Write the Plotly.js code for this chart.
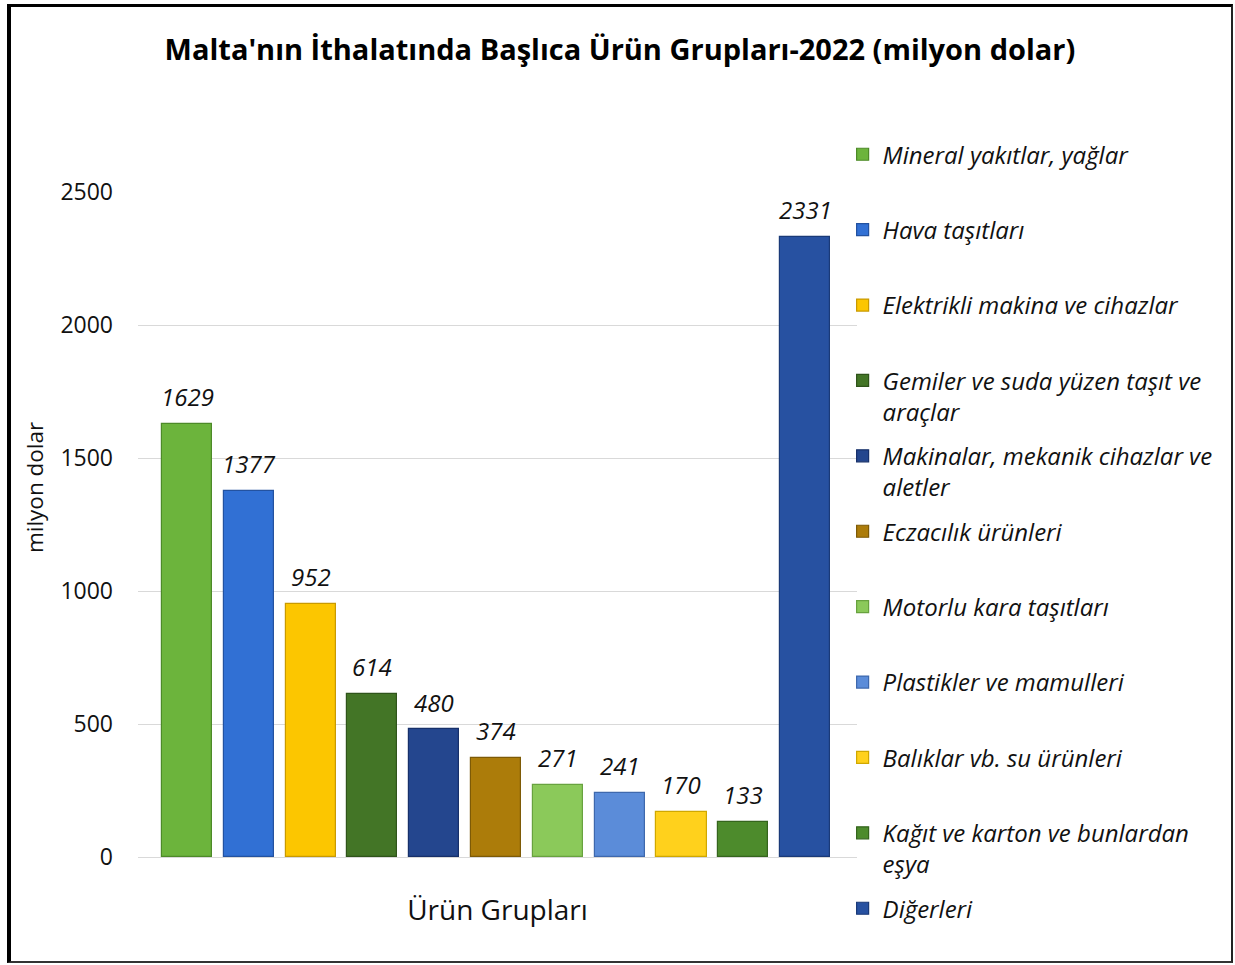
<!DOCTYPE html>
<html>
<head>
<meta charset="utf-8">
<script src="https://cdn.plot.ly/plotly-3.0.1.min.js"></script>
<style>
  html, body { margin: 0; padding: 0; background: #fff; }
  #chart { position: absolute; left: 0; top: 0; width: 1235px; height: 965px; }
  #frame { position: absolute; left: 7px; top: 4px; width: 1220px; height: 954px;
           border-left: 4px solid #000; border-top: 3px solid #000;
           border-right: 2px solid #222; border-bottom: 2px solid #333; pointer-events: none; }
</style>
</head>
<body>
<div id="chart"></div>
<div id="frame"></div>
<script>
// ---- data ----
const categories = [
  "Mineral yakıtlar, yağlar",
  "Hava taşıtları",
  "Elektrikli makina ve cihazlar",
  "Gemiler ve suda yüzen taşıt ve araçlar",
  "Makinalar, mekanik cihazlar ve aletler",
  "Eczacılık ürünleri",
  "Motorlu kara taşıtları",
  "Plastikler ve mamulleri",
  "Balıklar vb. su ürünleri",
  "Kağıt ve karton ve bunlardan eşya",
  "Diğerleri"
];
const legendLabels = [
  "Mineral yakıtlar, yağlar<br> ",
  "Hava taşıtları<br> ",
  "Elektrikli makina ve cihazlar<br> ",
  "Gemiler ve suda yüzen taşıt ve<br>araçlar",
  "Makinalar, mekanik cihazlar ve<br>aletler",
  "Eczacılık ürünleri<br> ",
  "Motorlu kara taşıtları<br> ",
  "Plastikler ve mamulleri<br> ",
  "Balıklar vb. su ürünleri<br> ",
  "Kağıt ve karton ve bunlardan<br>eşya",
  "Diğerleri<br> "
];
const values = [1629, 1377, 952, 614, 480, 374, 271, 241, 170, 133, 2331];
const yTicks = [0, 500, 1000, 1500, 2000, 2500];

const colors = ["#6cb43c", "#3170d4", "#fcc600", "#437526", "#24468e", "#ac7c0a",
                "#8bc95a", "#5b8cd9", "#ffd11c", "#4d8b2c", "#2751a1"];
const edges  = ["#4d8a28", "#2352a0", "#c99a00", "#2f541a", "#17306a", "#7d5a06",
                "#68a23f", "#3e68ad", "#d0a800", "#35651d", "#1a3a78"];

const FONT = "'Open Sans', 'Noto Sans', sans-serif";

const traces = values.map((v, i) => ({
  type: "bar",
  x: [i],
  y: [v],
  width: 0.81,
  name: legendLabels[i],
  legendgroup: "g" + i,
  marker: { color: colors[i], line: { color: edges[i], width: 1.2 } },
  hovertemplate: categories[i] + ": %{y}<extra></extra>"
}));

const annotations = values.map((v, i) => ({
  x: i, y: v, xref: "x", yref: "y",
  text: String(v), showarrow: false,
  yanchor: "middle", yshift: 27,
  font: { family: FONT, size: 24, color: "#111", style: "italic" }
}));
annotations.push({
  xref: "paper", yref: "paper", x: -0.143, y: 0.555,
  text: "milyon dolar", textangle: -90, showarrow: false,
  xanchor: "center", yanchor: "middle",
  font: { family: FONT, size: 22.5, color: "#111" }
});

const layout = {
  width: 1235, height: 965,
  paper_bgcolor: "#fff", plot_bgcolor: "#fff",
  margin: { l: 138, r: 378, t: 192, b: 108 },
  title: {
    text: "<b>Malta'nın İthalatında Başlıca Ürün Grupları-2022 (milyon dolar)</b>",
    x: 0.502, xref: "container", y: 0.948, yref: "container", yanchor: "middle",
    font: { family: FONT, size: 29, color: "#000" }
  },
  xaxis: {
    range: [-0.793, 10.84],
    showticklabels: false, showgrid: false, zeroline: false, showline: false, ticks: "",
    title: { text: "Ürün Grupları", standoff: 43, font: { family: FONT, size: 28, color: "#111" } }
  },
  yaxis: {
    range: [0, 2500],
    tickvals: yTicks, ticktext: yTicks.map(String),
    showgrid: true, gridcolor: "#d9d9d9", gridwidth: 1,
    zeroline: true, zerolinecolor: "#d9d9d9", zerolinewidth: 1,
    showline: false, ticks: "", ticklabelstandoff: 24,
    tickfont: { family: FONT, size: 23, color: "#111" }
  },
  showlegend: true,
  legend: {
    x: 0.98, xanchor: "left", y: 1.09, yanchor: "top", maxheight: 900,
    bgcolor: "rgba(0,0,0,0)", tracegroupgap: 10, valign: "top",
    font: { family: FONT, size: 24, color: "#111", style: "italic" }
  },
  bargap: 0,
  annotations: annotations
};

Plotly.newPlot("chart", traces, layout, { displayModeBar: false, responsive: false });
</script>
</body>
</html>
